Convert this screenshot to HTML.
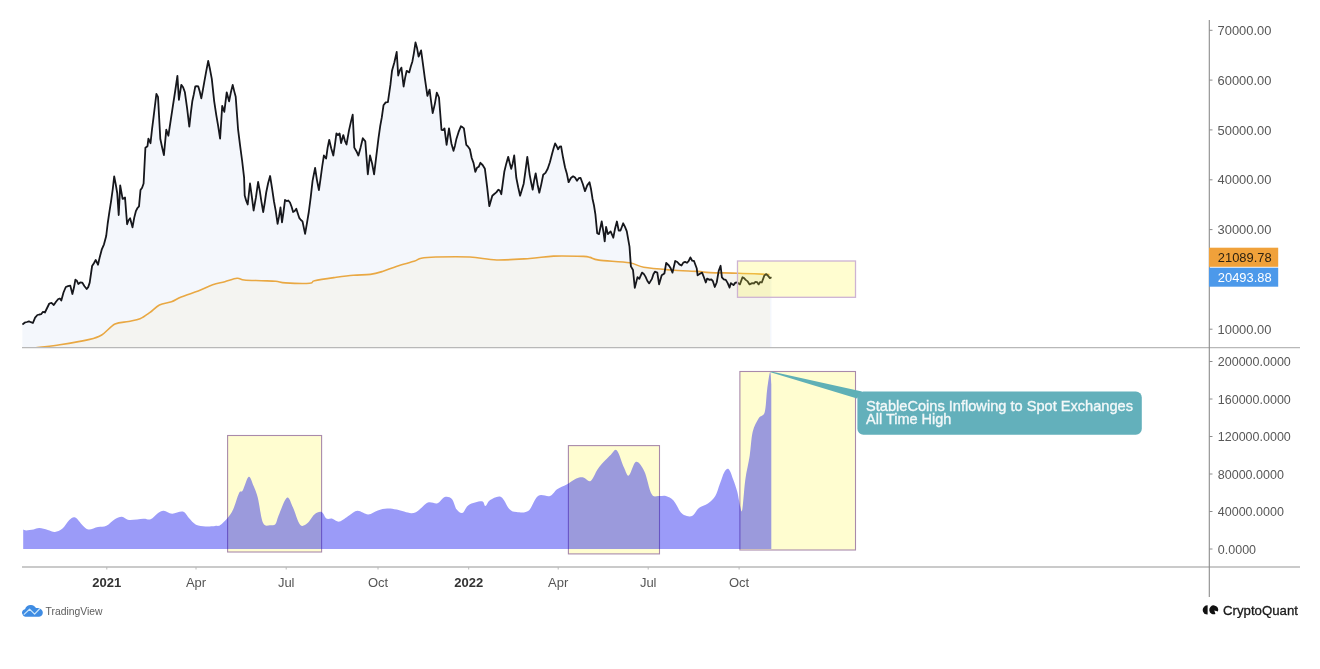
<!DOCTYPE html>
<html><head><meta charset="utf-8"><title>chart</title>
<style>html,body{margin:0;padding:0;background:#fff;width:1320px;height:669px;overflow:hidden;}svg{display:block;filter:blur(0.45px);}</style>
</head><body>
<svg width="1320" height="669" viewBox="0 0 1320 669">
<defs><clipPath id="cp1"><rect x="22" y="0" width="1187" height="347.5"/></clipPath></defs>
<g clip-path="url(#cp1)">
<polygon points="22.4,347.5 22.4,324.5 24.6,322.7 26.9,322.0 28.9,321.3 30.9,322.2 32.9,323.0 35.1,317.7 37.4,315.0 39.3,314.5 41.1,314.2 43.0,311.8 44.9,312.5 47.1,308.0 49.3,303.5 51.5,302.9 53.8,305.0 56.0,301.8 58.3,299.0 59.8,298.5 61.3,300.5 63.5,292.5 65.8,287.0 68.0,286.1 70.3,285.6 72.4,294.0 73.9,287.8 75.4,279.6 76.8,280.7 78.3,284.0 80.2,282.5 82.2,282.6 84.5,286.2 86.7,289.0 88.2,287.1 89.7,282.6 92.1,266.0 93.9,263.2 95.7,260.0 98.0,264.7 99.8,256.9 101.7,249.7 104.0,244.3 106.2,236.0 107.7,223.5 109.1,213.8 111.2,200.4 112.7,189.5 114.2,176.4 115.7,184.1 117.2,193.0 118.7,215.0 120.2,185.4 122.6,198.9 125.0,197.4 127.1,224.3 128.6,220.2 130.1,218.3 132.5,227.3 134.2,217.9 136.0,210.8 137.5,208.0 139.0,206.3 140.5,190.0 142.1,187.7 143.6,183.5 145.4,147.7 147.5,146.2 148.4,138.7 150.5,143.2 152.0,129.5 153.5,117.7 154.9,106.0 156.4,93.8 158.0,96.8 160.3,138.7 162.1,147.3 163.9,155.1 166.3,129.7 168.4,135.7 170.7,120.4 172.9,105.8 175.2,91.0 177.4,75.9 178.9,99.8 181.3,84.9 183.1,87.3 184.9,92.3 187.1,108.2 189.3,126.7 190.8,113.1 192.3,101.3 193.8,94.4 195.3,86.4 196.8,86.2 198.3,86.4 199.8,91.8 201.3,98.3 202.8,90.4 204.3,81.9 206.2,71.3 208.2,60.9 210.0,69.3 211.8,78.9 214.2,101.3 216.2,114.6 218.1,125.6 220.1,138.7 222.2,105.8 224.3,111.8 226.7,92.3 229.1,101.3 230.9,92.3 232.7,84.9 234.2,91.1 235.7,96.8 238.1,129.7 240.1,145.7 242.1,160.5 244.1,177.6 244.7,195.5 246.2,200.7 247.7,204.5 250.0,183.5 251.8,196.4 253.6,210.5 255.9,197.7 258.1,182.0 259.8,190.9 261.5,202.2 263.2,212.0 264.7,203.0 266.2,192.5 268.1,183.2 270.1,176.0 272.1,188.7 274.0,201.5 275.8,211.3 277.6,223.9 279.1,216.2 280.5,207.5 282.0,222.4 283.5,212.0 285.0,200.0 286.7,201.1 288.3,200.5 290.0,202.5 291.6,206.7 293.1,212.0 294.7,211.0 296.3,208.8 297.9,213.8 299.4,218.2 300.9,220.0 302.5,221.4 305.1,233.9 307.0,222.8 308.8,212.0 310.7,197.3 312.6,180.6 315.1,168.0 317.0,180.3 318.9,190.0 320.6,178.4 322.2,166.5 323.9,155.5 326.1,158.6 327.6,147.9 329.2,139.8 331.2,148.3 333.3,155.5 334.9,144.9 336.4,133.5 338.0,135.0 339.6,133.5 341.1,143.0 343.3,135.1 344.9,140.8 346.5,144.5 349.0,130.4 350.9,121.9 352.7,114.7 354.3,147.6 356.4,151.2 358.4,155.5 360.6,147.4 362.8,138.2 365.3,141.4 367.8,174.3 370.0,155.5 372.1,163.5 374.1,174.3 376.3,156.1 378.5,138.2 380.2,126.2 381.8,117.4 383.5,105.3 385.7,102.4 387.9,102.2 390.4,84.9 392.0,70.8 394.4,62.2 396.7,52.0 398.2,75.5 399.8,70.4 401.4,67.6 403.6,86.5 405.1,77.9 406.7,70.8 409.2,72.4 410.8,66.6 412.4,61.4 413.9,53.1 415.5,42.5 417.1,48.3 418.6,56.7 421.1,50.4 423.0,64.3 424.9,78.6 427.4,95.9 429.6,89.6 431.1,101.5 432.7,113.1 434.8,104.1 436.8,92.7 439.0,97.5 441.5,129.9 443.0,130.1 444.5,128.4 446.6,144.9 449.0,128.4 451.4,143.4 453.5,150.8 454.9,145.9 456.4,138.9 458.6,131.9 460.9,126.3 462.4,127.1 463.9,128.4 466.3,144.9 468.1,146.7 469.9,149.3 471.7,158.0 473.5,162.9 475.3,171.8 477.0,167.8 478.7,166.8 480.4,162.8 482.6,165.0 484.9,168.8 487.1,186.7 489.3,206.2 490.8,200.9 492.3,195.7 494.3,194.0 496.3,192.4 498.3,189.7 499.8,190.5 501.3,194.2 502.8,182.8 504.3,171.8 506.2,163.9 508.2,156.8 509.7,163.0 511.2,168.8 512.7,163.4 514.2,155.3 516.3,177.8 518.2,187.3 520.1,195.7 521.9,189.7 523.7,183.7 525.5,170.6 527.3,156.8 529.7,174.8 531.2,182.8 532.7,189.7 534.2,180.2 535.7,173.3 537.5,184.2 539.3,192.7 541.2,184.6 543.2,174.8 545.5,172.9 547.7,168.8 549.9,162.2 552.1,153.8 553.6,148.3 555.1,143.4 556.6,146.0 558.1,149.3 559.6,146.7 561.1,146.4 563.0,157.3 565.0,167.3 566.8,173.4 568.6,182.2 570.9,178.0 573.1,176.3 575.0,177.6 577.0,180.7 578.8,178.2 580.5,177.8 582.8,184.0 585.0,191.2 587.2,185.4 589.5,182.2 591.0,189.0 592.5,198.7 594.0,205.5 595.4,214.3 597.2,233.2 599.0,234.1 601.7,221.5 603.5,232.3 604.7,241.3 606.1,226.9 607.9,234.1 610.6,231.4 613.3,237.7 615.1,228.4 616.9,221.5 618.7,230.5 620.5,230.5 623.2,223.3 625.0,226.9 626.8,231.4 629.5,246.6 630.9,266.4 633.0,270.0 634.8,287.9 637.5,277.1 639.3,278.9 642.0,272.6 643.8,273.9 645.6,276.9 647.4,281.0 649.2,283.4 651.9,278.9 653.4,274.2 654.9,271.7 657.3,272.6 659.1,284.3 661.7,275.3 664.4,273.5 666.2,262.8 668.9,265.5 670.7,268.3 672.5,272.6 675.2,261.0 677.3,262.0 679.4,264.4 681.5,265.5 683.3,262.6 685.1,261.9 686.9,262.8 688.6,261.1 690.4,257.4 692.2,260.7 694.0,261.0 696.7,268.2 697.6,275.3 699.9,273.8 702.1,272.6 704.0,277.5 705.8,282.5 707.1,278.6 709.7,279.9 711.3,279.3 712.9,281.2 714.8,287.0 716.7,282.5 718.7,270.9 720.6,265.8 721.9,277.3 723.8,279.3 725.8,279.9 727.7,283.1 729.6,287.6 730.9,283.1 733.5,285.1 735.4,282.6 737.3,282.5 739.9,284.4 742.5,277.3 744.1,278.1 745.7,279.9 747.7,281.4 749.6,284.4 752.2,283.1 753.8,283.5 755.4,281.9 757.0,282.1 758.6,284.4 760.2,282.0 761.8,282.5 764.4,275.4 766.3,274.1 768.3,276.1 769.9,278.1 771.5,277.3 771.5,347.5" fill="#f4f7fc"/>
<polygon points="22.0,347.5 22.0,350.5 35.9,347.8 59.8,344.8 89.7,339.4 101.7,335.0 115.0,324.0 128.6,321.5 140.0,318.8 149.7,312.7 159.4,305.0 171.5,301.8 181.2,297.0 198.2,290.9 212.7,284.8 224.8,281.7 237.0,278.3 244.2,280.0 261.2,280.7 275.8,281.2 285.5,282.9 309.7,283.2 314.5,280.7 333.9,277.6 353.3,275.2 370.3,274.4 382.4,271.5 397.0,266.2 414.0,261.3 421.2,258.2 435.8,257.0 469.9,257.0 496.8,260.0 529.7,258.5 553.6,256.1 583.5,256.4 590.0,257.4 599.0,260.1 629.5,262.8 643.8,267.3 670.7,270.0 697.6,271.4 710.0,272.6 738.6,273.2 769.5,274.5 770.0,274.5 770.0,347.5" fill="#f4f4f1"/>
<path d="M22.0,350.5 C24.3,350.1 29.6,348.8 35.9,347.8 C42.2,346.9 50.8,346.2 59.8,344.8 C68.8,343.4 82.7,341.0 89.7,339.4 C96.7,337.8 97.5,337.6 101.7,335.0 C105.9,332.4 110.5,326.2 115.0,324.0 C119.5,321.8 124.4,322.4 128.6,321.5 C132.8,320.6 136.5,320.3 140.0,318.8 C143.5,317.3 146.5,315.0 149.7,312.7 C152.9,310.4 155.8,306.8 159.4,305.0 C163.0,303.2 167.9,303.1 171.5,301.8 C175.1,300.5 176.8,298.8 181.2,297.0 C185.6,295.2 192.9,292.9 198.2,290.9 C203.4,288.9 208.3,286.3 212.7,284.8 C217.1,283.3 220.8,282.8 224.8,281.7 C228.9,280.6 233.8,278.6 237.0,278.3 C240.2,278.0 240.2,279.6 244.2,280.0 C248.2,280.4 255.9,280.5 261.2,280.7 C266.5,280.9 271.8,280.8 275.8,281.2 C279.9,281.6 279.9,282.6 285.5,282.9 C291.1,283.2 304.9,283.6 309.7,283.2 C314.5,282.8 310.5,281.6 314.5,280.7 C318.5,279.8 327.4,278.5 333.9,277.6 C340.4,276.7 347.2,275.7 353.3,275.2 C359.4,274.7 365.5,275.0 370.3,274.4 C375.1,273.8 377.9,272.9 382.4,271.5 C386.8,270.1 391.7,267.9 397.0,266.2 C402.3,264.5 410.0,262.6 414.0,261.3 C418.0,260.0 417.6,258.9 421.2,258.2 C424.8,257.5 427.7,257.2 435.8,257.0 C443.9,256.8 459.7,256.5 469.9,257.0 C480.1,257.5 486.8,259.8 496.8,260.0 C506.8,260.2 520.2,259.1 529.7,258.5 C539.2,257.9 544.6,256.5 553.6,256.1 C562.6,255.8 577.4,256.2 583.5,256.4 C589.6,256.6 587.4,256.8 590.0,257.4 C592.6,258.0 592.4,259.2 599.0,260.1 C605.6,261.0 622.0,261.6 629.5,262.8 C637.0,264.0 636.9,266.1 643.8,267.3 C650.7,268.5 661.7,269.3 670.7,270.0 C679.7,270.7 691.1,271.0 697.6,271.4 C704.1,271.8 703.2,272.3 710.0,272.6 C716.8,272.9 728.7,272.9 738.6,273.2 C748.5,273.5 764.4,274.3 769.5,274.5" fill="none" stroke="#e9a843" stroke-width="1.6" stroke-linejoin="round"/>
<polyline points="22.4,324.5 24.6,322.7 26.9,322.0 28.9,321.3 30.9,322.2 32.9,323.0 35.1,317.7 37.4,315.0 39.3,314.5 41.1,314.2 43.0,311.8 44.9,312.5 47.1,308.0 49.3,303.5 51.5,302.9 53.8,305.0 56.0,301.8 58.3,299.0 59.8,298.5 61.3,300.5 63.5,292.5 65.8,287.0 68.0,286.1 70.3,285.6 72.4,294.0 73.9,287.8 75.4,279.6 76.8,280.7 78.3,284.0 80.2,282.5 82.2,282.6 84.5,286.2 86.7,289.0 88.2,287.1 89.7,282.6 92.1,266.0 93.9,263.2 95.7,260.0 98.0,264.7 99.8,256.9 101.7,249.7 104.0,244.3 106.2,236.0 107.7,223.5 109.1,213.8 111.2,200.4 112.7,189.5 114.2,176.4 115.7,184.1 117.2,193.0 118.7,215.0 120.2,185.4 122.6,198.9 125.0,197.4 127.1,224.3 128.6,220.2 130.1,218.3 132.5,227.3 134.2,217.9 136.0,210.8 137.5,208.0 139.0,206.3 140.5,190.0 142.1,187.7 143.6,183.5 145.4,147.7 147.5,146.2 148.4,138.7 150.5,143.2 152.0,129.5 153.5,117.7 154.9,106.0 156.4,93.8 158.0,96.8 160.3,138.7 162.1,147.3 163.9,155.1 166.3,129.7 168.4,135.7 170.7,120.4 172.9,105.8 175.2,91.0 177.4,75.9 178.9,99.8 181.3,84.9 183.1,87.3 184.9,92.3 187.1,108.2 189.3,126.7 190.8,113.1 192.3,101.3 193.8,94.4 195.3,86.4 196.8,86.2 198.3,86.4 199.8,91.8 201.3,98.3 202.8,90.4 204.3,81.9 206.2,71.3 208.2,60.9 210.0,69.3 211.8,78.9 214.2,101.3 216.2,114.6 218.1,125.6 220.1,138.7 222.2,105.8 224.3,111.8 226.7,92.3 229.1,101.3 230.9,92.3 232.7,84.9 234.2,91.1 235.7,96.8 238.1,129.7 240.1,145.7 242.1,160.5 244.1,177.6 244.7,195.5 246.2,200.7 247.7,204.5 250.0,183.5 251.8,196.4 253.6,210.5 255.9,197.7 258.1,182.0 259.8,190.9 261.5,202.2 263.2,212.0 264.7,203.0 266.2,192.5 268.1,183.2 270.1,176.0 272.1,188.7 274.0,201.5 275.8,211.3 277.6,223.9 279.1,216.2 280.5,207.5 282.0,222.4 283.5,212.0 285.0,200.0 286.7,201.1 288.3,200.5 290.0,202.5 291.6,206.7 293.1,212.0 294.7,211.0 296.3,208.8 297.9,213.8 299.4,218.2 300.9,220.0 302.5,221.4 305.1,233.9 307.0,222.8 308.8,212.0 310.7,197.3 312.6,180.6 315.1,168.0 317.0,180.3 318.9,190.0 320.6,178.4 322.2,166.5 323.9,155.5 326.1,158.6 327.6,147.9 329.2,139.8 331.2,148.3 333.3,155.5 334.9,144.9 336.4,133.5 338.0,135.0 339.6,133.5 341.1,143.0 343.3,135.1 344.9,140.8 346.5,144.5 349.0,130.4 350.9,121.9 352.7,114.7 354.3,147.6 356.4,151.2 358.4,155.5 360.6,147.4 362.8,138.2 365.3,141.4 367.8,174.3 370.0,155.5 372.1,163.5 374.1,174.3 376.3,156.1 378.5,138.2 380.2,126.2 381.8,117.4 383.5,105.3 385.7,102.4 387.9,102.2 390.4,84.9 392.0,70.8 394.4,62.2 396.7,52.0 398.2,75.5 399.8,70.4 401.4,67.6 403.6,86.5 405.1,77.9 406.7,70.8 409.2,72.4 410.8,66.6 412.4,61.4 413.9,53.1 415.5,42.5 417.1,48.3 418.6,56.7 421.1,50.4 423.0,64.3 424.9,78.6 427.4,95.9 429.6,89.6 431.1,101.5 432.7,113.1 434.8,104.1 436.8,92.7 439.0,97.5 441.5,129.9 443.0,130.1 444.5,128.4 446.6,144.9 449.0,128.4 451.4,143.4 453.5,150.8 454.9,145.9 456.4,138.9 458.6,131.9 460.9,126.3 462.4,127.1 463.9,128.4 466.3,144.9 468.1,146.7 469.9,149.3 471.7,158.0 473.5,162.9 475.3,171.8 477.0,167.8 478.7,166.8 480.4,162.8 482.6,165.0 484.9,168.8 487.1,186.7 489.3,206.2 490.8,200.9 492.3,195.7 494.3,194.0 496.3,192.4 498.3,189.7 499.8,190.5 501.3,194.2 502.8,182.8 504.3,171.8 506.2,163.9 508.2,156.8 509.7,163.0 511.2,168.8 512.7,163.4 514.2,155.3 516.3,177.8 518.2,187.3 520.1,195.7 521.9,189.7 523.7,183.7 525.5,170.6 527.3,156.8 529.7,174.8 531.2,182.8 532.7,189.7 534.2,180.2 535.7,173.3 537.5,184.2 539.3,192.7 541.2,184.6 543.2,174.8 545.5,172.9 547.7,168.8 549.9,162.2 552.1,153.8 553.6,148.3 555.1,143.4 556.6,146.0 558.1,149.3 559.6,146.7 561.1,146.4 563.0,157.3 565.0,167.3 566.8,173.4 568.6,182.2 570.9,178.0 573.1,176.3 575.0,177.6 577.0,180.7 578.8,178.2 580.5,177.8 582.8,184.0 585.0,191.2 587.2,185.4 589.5,182.2 591.0,189.0 592.5,198.7 594.0,205.5 595.4,214.3 597.2,233.2 599.0,234.1 601.7,221.5 603.5,232.3 604.7,241.3 606.1,226.9 607.9,234.1 610.6,231.4 613.3,237.7 615.1,228.4 616.9,221.5 618.7,230.5 620.5,230.5 623.2,223.3 625.0,226.9 626.8,231.4 629.5,246.6 630.9,266.4 633.0,270.0 634.8,287.9 637.5,277.1 639.3,278.9 642.0,272.6 643.8,273.9 645.6,276.9 647.4,281.0 649.2,283.4 651.9,278.9 653.4,274.2 654.9,271.7 657.3,272.6 659.1,284.3 661.7,275.3 664.4,273.5 666.2,262.8 668.9,265.5 670.7,268.3 672.5,272.6 675.2,261.0 677.3,262.0 679.4,264.4 681.5,265.5 683.3,262.6 685.1,261.9 686.9,262.8 688.6,261.1 690.4,257.4 692.2,260.7 694.0,261.0 696.7,268.2 697.6,275.3 699.9,273.8 702.1,272.6 704.0,277.5 705.8,282.5 707.1,278.6 709.7,279.9 711.3,279.3 712.9,281.2 714.8,287.0 716.7,282.5 718.7,270.9 720.6,265.8 721.9,277.3 723.8,279.3 725.8,279.9 727.7,283.1 729.6,287.6 730.9,283.1 733.5,285.1 735.4,282.6 737.3,282.5 739.9,284.4 742.5,277.3 744.1,278.1 745.7,279.9 747.7,281.4 749.6,284.4 752.2,283.1 753.8,283.5 755.4,281.9 757.0,282.1 758.6,284.4 760.2,282.0 761.8,282.5 764.4,275.4 766.3,274.1 768.3,276.1 769.9,278.1 771.5,277.3" fill="none" stroke="#16171c" stroke-width="1.8" stroke-linejoin="round"/>
<rect x="737.5" y="261" width="118" height="36.3" fill="rgb(255,246,60)" fill-opacity="0.24" stroke="#cdb3d3" stroke-width="1.3"/>
</g>
<line x1="22" y1="347.6" x2="1300" y2="347.6" stroke="#b8b8b8" stroke-width="1.3"/>
<line x1="22" y1="567" x2="1300" y2="567" stroke="#b8b8b8" stroke-width="1.3"/>
<line x1="1209.3" y1="20" x2="1209.3" y2="597" stroke="#8c8c8c" stroke-width="1.1"/>
<rect x="227.6" y="435.5" width="94.0" height="116.5" fill="#fffdd0" stroke="#a98aab" stroke-width="1.1"/>
<rect x="568.4" y="445.6" width="91.1" height="108.3" fill="#fffdd0" stroke="#a98aab" stroke-width="1.1"/>
<rect x="739.9" y="371.5" width="115.6" height="178.5" fill="#fffdd0" stroke="#a98aab" stroke-width="1.1"/>
<path d="M23.2,549 L23.2,529.5 C23.7,529.6 24.6,530.4 26.3,530.4 C28.0,530.4 31.3,529.9 33.5,529.5 C35.7,529.1 37.0,528.0 39.4,528.1 C41.8,528.2 45.2,529.4 47.8,530.0 C50.4,530.6 52.6,532.1 55.0,531.9 C57.4,531.7 59.8,530.8 62.2,528.8 C64.6,526.8 67.1,521.8 69.3,519.9 C71.5,518.0 73.1,516.6 75.3,517.5 C77.5,518.4 80.3,523.2 82.5,525.2 C84.7,527.2 85.9,529.2 88.5,529.5 C91.1,529.8 95.0,527.7 98.0,527.1 C101.0,526.5 103.6,527.0 106.4,525.7 C109.2,524.4 112.2,520.7 114.8,519.2 C117.4,517.7 119.5,516.7 121.9,516.8 C124.3,516.9 125.5,519.6 129.1,519.9 C132.7,520.2 139.8,518.8 143.4,518.7 C147.0,518.6 148.2,520.1 150.6,519.2 C153.0,518.3 155.6,514.6 157.8,513.2 C160.0,511.8 161.4,510.7 163.8,510.8 C166.2,510.9 168.9,513.6 172.1,513.7 C175.3,513.8 180.1,510.9 182.9,511.6 C185.7,512.3 186.7,515.8 188.9,518.0 C191.1,520.2 193.2,523.3 196.0,524.7 C198.8,526.1 202.4,526.2 205.6,526.4 C208.8,526.6 212.8,526.1 215.2,525.9 C217.6,525.7 217.9,526.5 220.0,525.2 C222.1,523.9 225.4,520.6 227.6,518.0 C229.8,515.4 231.2,513.8 233.1,509.6 C235.0,505.4 237.5,496.1 239.1,492.9 C240.7,489.7 241.1,493.2 242.7,490.5 C244.3,487.8 246.9,477.5 248.7,476.7 C250.5,475.9 252.0,482.2 253.5,485.7 C255.0,489.2 256.2,491.5 257.8,497.7 C259.4,503.9 260.9,518.2 263.0,522.8 C265.1,527.4 268.1,525.0 270.2,525.2 C272.3,525.4 274.1,525.6 275.5,524.0 C276.9,522.4 276.7,520.0 278.6,515.6 C280.5,511.2 284.5,499.1 286.9,497.7 C289.3,496.3 290.7,502.8 292.9,507.3 C295.1,511.8 297.7,522.0 300.1,524.7 C302.5,527.4 304.9,525.0 307.3,523.3 C309.7,521.6 312.0,516.3 314.4,514.4 C316.8,512.5 319.6,511.3 321.6,512.0 C323.6,512.7 324.6,517.4 326.4,518.5 C328.2,519.6 330.2,518.2 332.4,518.7 C334.6,519.2 336.7,522.1 339.5,521.6 C342.3,521.1 346.1,517.4 349.1,515.6 C352.1,513.8 354.3,511.0 357.5,510.8 C360.7,510.6 364.8,514.5 368.2,514.4 C371.6,514.3 374.6,511.4 377.8,510.4 C381.0,509.4 384.1,508.6 387.3,508.5 C390.5,508.4 392.9,508.8 396.9,509.6 C400.9,510.4 407.6,513.1 411.2,513.2 C414.8,513.3 415.6,512.2 418.4,510.4 C421.2,508.6 424.8,503.7 428.0,502.5 C431.2,501.3 434.7,504.1 437.5,503.2 C440.3,502.3 442.3,497.7 444.7,497.0 C447.1,496.3 449.9,496.8 451.9,498.9 C453.9,501.0 454.9,507.3 456.7,509.6 C458.5,511.9 460.7,513.6 462.7,512.8 C464.7,512.0 465.5,506.8 468.7,504.9 C471.9,503.0 479.0,501.1 481.8,501.3 C484.6,501.5 484.0,506.3 485.4,506.1 C486.8,505.9 487.6,501.6 490.2,500.1 C492.8,498.6 497.8,495.5 501.0,497.0 C504.2,498.5 506.7,506.4 509.3,508.9 C511.9,511.4 513.3,511.7 516.5,512.0 C519.7,512.3 524.9,513.5 528.5,510.8 C532.1,508.1 534.4,498.5 538.0,496.0 C541.6,493.5 546.8,497.1 550.0,496.0 C553.2,494.9 554.3,491.2 557.1,489.3 C559.9,487.4 563.5,486.3 566.7,484.5 C569.9,482.7 573.5,479.8 576.3,478.6 C579.1,477.4 581.0,477.0 583.4,477.4 C585.8,477.8 588.2,482.4 590.6,481.0 C593.0,479.6 595.4,472.4 597.8,469.0 C600.2,465.6 602.8,463.0 605.0,460.6 C607.2,458.2 608.9,456.4 610.9,454.7 C612.9,453.0 614.7,448.2 616.9,450.4 C619.1,452.6 622.1,463.6 624.1,467.8 C626.1,472.0 626.9,476.5 628.9,475.5 C630.9,474.5 633.4,462.5 636.0,461.8 C638.6,461.1 641.8,466.0 644.4,471.4 C647.0,476.8 649.2,490.0 651.6,494.1 C654.0,498.2 656.3,495.7 658.7,496.0 C661.1,496.3 663.4,495.2 665.9,496.0 C668.4,496.8 671.0,497.8 673.5,500.6 C676.0,503.4 678.7,510.0 680.9,512.6 C683.1,515.2 684.9,515.6 686.9,516.1 C688.9,516.6 690.9,516.8 692.9,515.5 C694.9,514.2 696.4,510.1 698.9,508.1 C701.4,506.1 705.2,505.6 707.9,503.6 C710.6,501.6 713.3,499.4 715.3,496.1 C717.3,492.9 718.3,488.1 719.8,484.1 C721.3,480.1 722.8,474.7 724.3,472.2 C725.8,469.7 727.3,467.9 728.8,469.2 C730.3,470.4 731.9,476.0 733.3,479.7 C734.7,483.4 736.1,487.1 737.2,491.6 C738.4,496.1 739.4,503.6 740.2,506.6 C741.1,509.6 741.4,514.1 742.3,509.6 C743.1,505.1 744.1,488.7 745.3,479.7 C746.5,470.7 748.5,463.7 749.7,455.7 C750.9,447.7 751.2,438.0 752.7,431.8 C754.2,425.6 756.7,421.6 758.7,418.3 C760.7,415.1 763.3,417.0 764.7,412.3 C766.1,407.6 766.2,396.6 767.1,389.9 C768.0,383.2 769.4,373.0 770.1,372.0 C770.8,371.0 771.1,381.9 771.3,383.9 L771.3,549.0 Z" fill="rgb(5,5,237)" fill-opacity="0.4"/>
<polygon points="771.5,371.4 862,391.6 857,398.5 770.5,372.2" fill="#5fb0b6"/>
<rect x="857.4" y="391.6" width="284.4" height="43.1" rx="6" ry="6" fill="#63b0bb"/>
<text x="866" y="410.8" font-family='"Liberation Sans", sans-serif' font-size="14.5" fill="#f2f8f9" stroke="#f2f8f9" stroke-width="0.35" textLength="267" lengthAdjust="spacingAndGlyphs">StableCoins Inflowing to Spot Exchanges</text>
<text x="866" y="423.5" font-family='"Liberation Sans", sans-serif' font-size="14.5" fill="#f2f8f9" stroke="#f2f8f9" stroke-width="0.35">All Time High</text>
<line x1="1209.3" y1="30.3" x2="1212.5" y2="30.3" stroke="#8c8c8c" stroke-width="1"/>
<text x="1217.6" y="34.9" font-family='"Liberation Sans", sans-serif' font-size="12.9" fill="#585858">70000.00</text>
<line x1="1209.3" y1="80.1" x2="1212.5" y2="80.1" stroke="#8c8c8c" stroke-width="1"/>
<text x="1217.6" y="84.7" font-family='"Liberation Sans", sans-serif' font-size="12.9" fill="#585858">60000.00</text>
<line x1="1209.3" y1="129.9" x2="1212.5" y2="129.9" stroke="#8c8c8c" stroke-width="1"/>
<text x="1217.6" y="134.5" font-family='"Liberation Sans", sans-serif' font-size="12.9" fill="#585858">50000.00</text>
<line x1="1209.3" y1="179.8" x2="1212.5" y2="179.8" stroke="#8c8c8c" stroke-width="1"/>
<text x="1217.6" y="184.4" font-family='"Liberation Sans", sans-serif' font-size="12.9" fill="#585858">40000.00</text>
<line x1="1209.3" y1="229.6" x2="1212.5" y2="229.6" stroke="#8c8c8c" stroke-width="1"/>
<text x="1217.6" y="234.2" font-family='"Liberation Sans", sans-serif' font-size="12.9" fill="#585858">30000.00</text>
<line x1="1209.3" y1="329.2" x2="1212.5" y2="329.2" stroke="#8c8c8c" stroke-width="1"/>
<text x="1217.6" y="333.8" font-family='"Liberation Sans", sans-serif' font-size="12.9" fill="#585858">10000.00</text>
<line x1="1209.3" y1="361.5" x2="1212.5" y2="361.5" stroke="#8c8c8c" stroke-width="1"/>
<text x="1217.8" y="366.1" font-family='"Liberation Sans", sans-serif' font-size="12.5" fill="#585858">200000.0000</text>
<line x1="1209.3" y1="399.0" x2="1212.5" y2="399.0" stroke="#8c8c8c" stroke-width="1"/>
<text x="1217.8" y="403.6" font-family='"Liberation Sans", sans-serif' font-size="12.5" fill="#585858">160000.0000</text>
<line x1="1209.3" y1="436.5" x2="1212.5" y2="436.5" stroke="#8c8c8c" stroke-width="1"/>
<text x="1217.8" y="441.1" font-family='"Liberation Sans", sans-serif' font-size="12.5" fill="#585858">120000.0000</text>
<line x1="1209.3" y1="474.0" x2="1212.5" y2="474.0" stroke="#8c8c8c" stroke-width="1"/>
<text x="1217.8" y="478.6" font-family='"Liberation Sans", sans-serif' font-size="12.5" fill="#585858">80000.0000</text>
<line x1="1209.3" y1="511.5" x2="1212.5" y2="511.5" stroke="#8c8c8c" stroke-width="1"/>
<text x="1217.8" y="516.1" font-family='"Liberation Sans", sans-serif' font-size="12.5" fill="#585858">40000.0000</text>
<line x1="1209.3" y1="549.0" x2="1212.5" y2="549.0" stroke="#8c8c8c" stroke-width="1"/>
<text x="1217.8" y="553.6" font-family='"Liberation Sans", sans-serif' font-size="12.5" fill="#585858">0.0000</text>
<rect x="1209" y="247.7" width="69.2" height="19.1" fill="#f0a13a"/>
<text x="1217.8" y="261.9" font-family='"Liberation Sans", sans-serif' font-size="12.9" fill="#2e2210">21089.78</text>
<rect x="1209" y="267.7" width="69.2" height="19" fill="#4c99ea"/>
<text x="1217.8" y="281.8" font-family='"Liberation Sans", sans-serif' font-size="12.9" fill="#ffffff">20493.88</text>
<line x1="106.8" y1="567" x2="106.8" y2="569.5" stroke="#b8b8b8" stroke-width="1"/>
<text x="106.8" y="587.0" text-anchor="middle" font-family='"Liberation Sans", sans-serif' font-size="13" font-weight="bold" fill="#333">2021</text>
<line x1="196.0" y1="567" x2="196.0" y2="569.5" stroke="#b8b8b8" stroke-width="1"/>
<text x="196.0" y="587.0" text-anchor="middle" font-family='"Liberation Sans", sans-serif' font-size="13" font-weight="normal" fill="#555">Apr</text>
<line x1="286.2" y1="567" x2="286.2" y2="569.5" stroke="#b8b8b8" stroke-width="1"/>
<text x="286.2" y="587.0" text-anchor="middle" font-family='"Liberation Sans", sans-serif' font-size="13" font-weight="normal" fill="#555">Jul</text>
<line x1="378.0" y1="567" x2="378.0" y2="569.5" stroke="#b8b8b8" stroke-width="1"/>
<text x="378.0" y="587.0" text-anchor="middle" font-family='"Liberation Sans", sans-serif' font-size="13" font-weight="normal" fill="#555">Oct</text>
<line x1="468.7" y1="567" x2="468.7" y2="569.5" stroke="#b8b8b8" stroke-width="1"/>
<text x="468.7" y="587.0" text-anchor="middle" font-family='"Liberation Sans", sans-serif' font-size="13" font-weight="bold" fill="#333">2022</text>
<line x1="558.2" y1="567" x2="558.2" y2="569.5" stroke="#b8b8b8" stroke-width="1"/>
<text x="558.2" y="587.0" text-anchor="middle" font-family='"Liberation Sans", sans-serif' font-size="13" font-weight="normal" fill="#555">Apr</text>
<line x1="648.2" y1="567" x2="648.2" y2="569.5" stroke="#b8b8b8" stroke-width="1"/>
<text x="648.2" y="587.0" text-anchor="middle" font-family='"Liberation Sans", sans-serif' font-size="13" font-weight="normal" fill="#555">Jul</text>
<line x1="739.1" y1="567" x2="739.1" y2="569.5" stroke="#b8b8b8" stroke-width="1"/>
<text x="739.1" y="587.0" text-anchor="middle" font-family='"Liberation Sans", sans-serif' font-size="13" font-weight="normal" fill="#555">Oct</text>
<g>
<path d="M22.5,614.2 C21.3,612.3 22.5,609.8 25,609.3 C26,606 28.5,604.8 31,605 C33.5,605.2 35,606.5 36,608 C39.5,607.6 42.8,609.5 42.8,612.5 C42.8,615.6 40.5,616.8 38.5,616.8 L25.5,616.8 C24,616.8 23,615.5 22.5,614.2 Z" fill="#3f8ce3"/>
<polyline points="23.8,614.6 29.6,609.2 34.6,614.2 39.9,608.5" fill="none" stroke="#c9e6fb" stroke-width="1.2" stroke-linejoin="round"/>
</g>
<text x="45.5" y="615" font-family='"Liberation Sans", sans-serif' font-size="10.6" fill="#5d5d5d" textLength="57" lengthAdjust="spacingAndGlyphs">TradingView</text>
<path d="M1207.6,605.3 L1207.6,614.6 A4.9,4.65 0 0 1 1207.6,605.3 Z" fill="#111"/>
<path d="M1214.3,610.5 L1215.44,614.02 A4.5,4.5 0 1 1 1217.92,611.54 Z" fill="#111"/>
<text x="1223" y="614.7" font-family='"Liberation Sans", sans-serif' font-size="13" fill="#1a1a1a" stroke="#1a1a1a" stroke-width="0.3" textLength="75" lengthAdjust="spacingAndGlyphs">CryptoQuant</text>
</svg>
</body></html>
